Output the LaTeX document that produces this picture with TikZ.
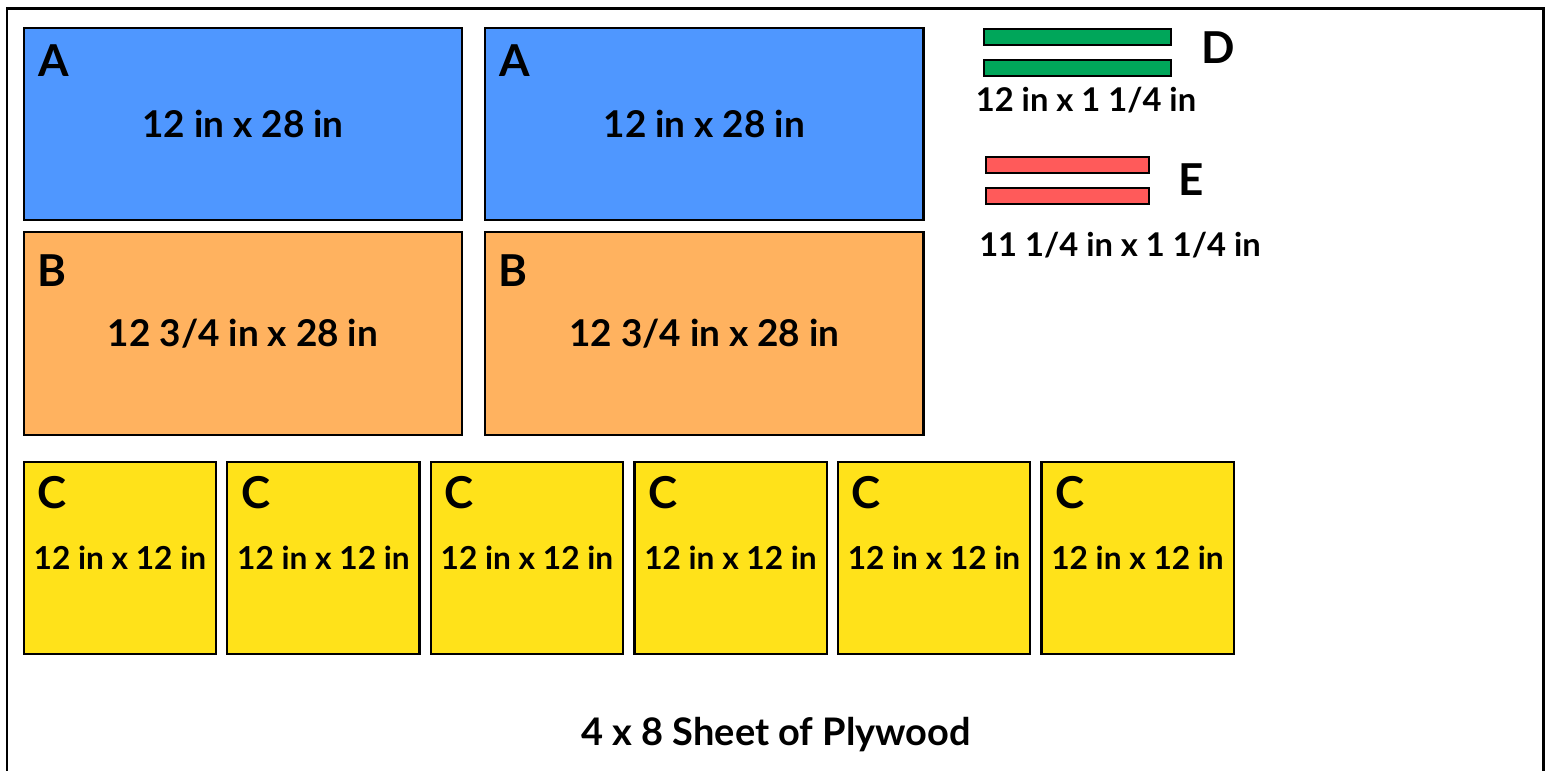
\documentclass[tikz,border=0pt]{standalone}
\usepackage{fontspec}
\setmainfont{Lato}
\usepackage{tikz}
\usetikzlibrary{positioning}
\definecolor{pieceblue}{RGB}{79,151,255}
\definecolor{pieceorange}{RGB}{255,178,95}
\definecolor{pieceyellow}{RGB}{255,226,26}
\definecolor{piecegreen}{RGB}{0,166,90}
\definecolor{piecered}{RGB}{255,90,90}
\tikzset{
    piece/.style={rectangle, draw=black, line width=0.6pt, inner sep=0pt, text centered, font=\fontsize{10.5}{12}\selectfont\bfseries},
    pieceA/.style={piece, fill=pieceblue, minimum width=4.38cm, minimum height=1.92cm},
    pieceB/.style={piece, fill=pieceorange, minimum width=4.38cm, minimum height=2.03cm},
    pieceC/.style={piece, fill=pieceyellow, minimum width=1.92cm, minimum height=1.92cm, font=\fontsize{9}{11}\selectfont\bfseries},
    stripD/.style={piece, fill=piecegreen, minimum width=1.87cm, minimum height=0.16cm},
    stripE/.style={piece, fill=piecered, minimum width=1.63cm, minimum height=0.16cm},
    tag/.style={inner sep=0pt, font=\fontsize{12.5}{14}\selectfont\bfseries},
    dims/.style={inner sep=0pt, font=\fontsize{9.3}{11}\selectfont\bfseries},
    title/.style={inner sep=0pt, font=\fontsize{10.8}{13}\selectfont\bfseries}
}
\begin{document}
\begin{tikzpicture}[x=0.01cm, y=-0.01cm]
    \useasboundingbox (0,0) rectangle (1552,771);
    % Sheet outline
    \draw [line width=0.85pt] (7,771) -- (7,9) -- (1543,9) -- (1543,771);
    % A pieces
    \node (A1) [pieceA] at (243,124) {12 in x 28 in};
    \node (A2) [pieceA, right=0.21cm of A1] {12 in x 28 in};
    % B pieces
    \node (B1) [pieceB, below=0.10cm of A1] {12 3/4 in x 28 in};
    \node (B2) [pieceB, below=0.10cm of A2] {12 3/4 in x 28 in};
    % C pieces
    \node (C1) [pieceC, below=0.245cm of B1.south west, anchor=north west] {12 in x 12 in};
    \node (C2) [pieceC, right=0.093cm of C1] {12 in x 12 in};
    \node (C3) [pieceC, right=0.093cm of C2] {12 in x 12 in};
    \node (C4) [pieceC, right=0.093cm of C3] {12 in x 12 in};
    \node (C5) [pieceC, right=0.093cm of C4] {12 in x 12 in};
    \node (C6) [pieceC, right=0.093cm of C5] {12 in x 12 in};
    % Letters
    \node (A1tag) [tag, anchor=north west] at ([xshift=0.15cm, yshift=-0.17cm]A1.north west) {A};
    \node (A2tag) [tag, anchor=north west] at ([xshift=0.15cm, yshift=-0.17cm]A2.north west) {A};
    \node (B1tag) [tag, anchor=north west] at ([xshift=0.14cm, yshift=-0.23cm]B1.north west) {B};
    \node (B2tag) [tag, anchor=north west] at ([xshift=0.14cm, yshift=-0.23cm]B2.north west) {B};
    \node (C1tag) [tag, anchor=north west] at ([xshift=0.14cm, yshift=-0.15cm]C1.north west) {C};
    \node (C2tag) [tag, anchor=north west] at ([xshift=0.14cm, yshift=-0.15cm]C2.north west) {C};
    \node (C3tag) [tag, anchor=north west] at ([xshift=0.14cm, yshift=-0.15cm]C3.north west) {C};
    \node (C4tag) [tag, anchor=north west] at ([xshift=0.14cm, yshift=-0.15cm]C4.north west) {C};
    \node (C5tag) [tag, anchor=north west] at ([xshift=0.14cm, yshift=-0.15cm]C5.north west) {C};
    \node (C6tag) [tag, anchor=north west] at ([xshift=0.14cm, yshift=-0.15cm]C6.north west) {C};
    % D strips
    \node (D1) [stripD] at (1077.5,37) {};
    \node (D2) [stripD, below=0.13cm of D1] {};
    \node (Dtag) [tag] at (1218,48) {D};
    \node (Dsize) [dims] at (1086,100) {12 in x 1 1/4 in};
    % E strips
    \node (E1) [stripE] at (1067.5,165) {};
    \node (E2) [stripE, below=0.13cm of E1] {};
    \node (Etag) [tag] at (1191,180) {E};
    \node (Esize) [dims] at (1120,245) {11 1/4 in x 1 1/4 in};
    % Caption
    \node (sheet) [title] at (776,735) {4 x 8 Sheet of Plywood};
\end{tikzpicture}
\end{document}
